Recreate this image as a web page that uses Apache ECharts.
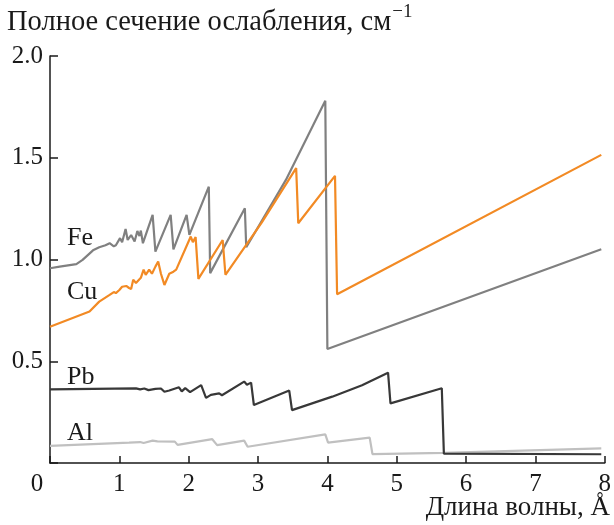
<!DOCTYPE html>
<html lang="ru">
<head>
    <meta charset="UTF-8">
    <title>Полное сечение ослабления</title>
    <style>
        html, body { margin: 0; padding: 0; background: #fff; }
        #chart { width: 614px; height: 525px; }
    </style>
</head>
<body>
    <div id="chart"></div>
    <script src="https://cdn.jsdelivr.net/npm/echarts@6/dist/echarts.min.js"></script>
    <script>
        // данные: [длина волны, Å; сечение, см^-1]
        const xTicks = [0, 1, 2, 3, 4, 5, 6, 7, 8];
        const yTicks = [0.5, 1.0, 1.5, 2.0];

        const fe = [[0, 0.957], [0.14, 0.965], [0.38, 0.977], [0.47, 0.998], [0.62, 1.045], [0.71, 1.06],
            [0.80, 1.07], [0.86, 1.08], [0.92, 1.065], [0.95, 1.07], [1.01, 1.105], [1.04, 1.085],
            [1.09, 1.15], [1.12, 1.096], [1.17, 1.12], [1.22, 1.088], [1.26, 1.14], [1.29, 1.115],
            [1.31, 1.142], [1.34, 1.08], [1.48, 1.219], [1.52, 1.039], [1.74, 1.219], [1.78, 1.05],
            [1.97, 1.219], [2.01, 1.121], [2.29, 1.358], [2.31, 0.933], [2.81, 1.252], [2.83, 1.06],
            [3.4, 1.39], [3.97, 1.78], [4.0, 0.56], [7.95, 1.05]];

        const cu = [[0, 0.67], [0.57, 0.744], [0.71, 0.793], [0.86, 0.826], [0.92, 0.84], [0.95, 0.835],
            [1.0, 0.85], [1.04, 0.866], [1.10, 0.87], [1.14, 0.86], [1.17, 0.855], [1.20, 0.90],
            [1.24, 0.885], [1.31, 0.91], [1.35, 0.95], [1.38, 0.925], [1.43, 0.95], [1.47, 0.93],
            [1.52, 0.965], [1.56, 0.99], [1.60, 0.93], [1.65, 0.875], [1.72, 0.93], [1.78, 0.94],
            [1.82, 0.95], [2.03, 1.113], [2.06, 1.085], [2.10, 1.11], [2.14, 0.905], [2.49, 1.096],
            [2.53, 0.925], [3.05, 1.18], [3.55, 1.449], [3.58, 1.178], [4.11, 1.411], [4.14, 0.829],
            [7.95, 1.514]];

        const pb = [[0, 0.362], [1.24, 0.367], [1.30, 0.362], [1.36, 0.366], [1.42, 0.358], [1.52, 0.364],
            [1.60, 0.366], [1.65, 0.35], [1.72, 0.356], [1.86, 0.372], [1.90, 0.352], [1.95, 0.368],
            [2.02, 0.348], [2.18, 0.383], [2.25, 0.32], [2.32, 0.335], [2.44, 0.342], [2.48, 0.333],
            [2.80, 0.40], [2.84, 0.385], [2.90, 0.395], [2.94, 0.285], [3.45, 0.356], [3.49, 0.26],
            [4.07, 0.326], [4.5, 0.382], [4.875, 0.444], [4.91, 0.293], [5.65, 0.367], [5.68, 0.046],
            [7.95, 0.043]];

        const al = [[0, 0.084], [1.14, 0.10], [1.3, 0.103], [1.35, 0.098], [1.48, 0.11], [1.55, 0.106],
            [1.8, 0.105], [1.84, 0.089], [2.34, 0.117], [2.41, 0.088], [2.80, 0.11], [2.85, 0.08],
            [3.97, 0.141], [4.01, 0.10], [4.61, 0.125], [4.65, 0.044], [5.68, 0.05], [7.95, 0.072]];

        const names = ['Fe', 'Cu', 'Pb', 'Al'];
        const colors = ['#808080', '#f28a24', '#383838', '#c0c0c0'];

        const font = '"Liberation Serif", "DejaVu Serif", serif';
        const fsz = 25;
        const ink = '#1a1a1a';
        const title = 'Полное сечение ослабления, см';
        const titleSize = 28.5;

        // ширина заголовка, чтобы поставить степень сразу за "см"
        const ctx = document.createElement('canvas').getContext('2d');
        ctx.font = titleSize + 'px ' + font;
        const titleW = ctx.measureText(title).width;

        function line(name, data, color) {
            return {
                name: name,
                type: 'line',
                data: data,
                symbol: 'none',
                silent: true,
                lineStyle: { color: color, width: 2.2 }
            };
        }

        function txt(text, x, y, align, size) {
            return {
                type: 'text',
                x: x, y: y,
                style: {
                    text: text,
                    font: (size || fsz) + 'px ' + font,
                    fill: ink,
                    textAlign: align || 'left',
                    textVerticalAlign: 'middle'
                }
            };
        }

        const option = {
            animation: false,
            grid: { left: 50, right: 8, top: 56, bottom: 62, containLabel: false },
            xAxis: {
                type: 'value',
                min: 0, max: 8, interval: 1,
                axisLine: { lineStyle: { color: ink, width: 1.5 } },
                axisTick: { inside: true, length: 7, lineStyle: { color: ink, width: 1.5 } },
                axisLabel: {
                    margin: 9,
                    fontFamily: font, fontSize: fsz, color: ink,
                    formatter: v => (v === 0 ? '' : String(v))
                },
                splitLine: { show: false }
            },
            yAxis: {
                type: 'value',
                min: 0, max: 2, interval: 0.5,
                axisLine: { show: true, lineStyle: { color: ink, width: 1.5 } },
                axisTick: { show: true, inside: true, length: 8, lineStyle: { color: ink, width: 1.5 } },
                axisLabel: {
                    margin: 7,
                    fontFamily: font, fontSize: fsz, color: ink,
                    formatter: v => (v === 0 ? '' : v.toFixed(1))
                },
                splitLine: { show: false }
            },
            series: [
                line(names[3], al, colors[3]),
                line(names[2], pb, colors[2]),
                line(names[0], fe, colors[0]),
                line(names[1], cu, colors[1])
            ],
            graphic: [
                txt(title, 7, 23, 'left', titleSize),
                txt('−1', 7 + titleW + 1, 12, 'left', 19),
                txt('Длина волны, Å', 610, 508, 'right', 27),
                txt('0', 37, 484, 'center'),
                txt(names[0], 67, 238, 'left', 26),
                txt(names[1], 67, 292, 'left', 26),
                txt(names[2], 67, 377, 'left', 26),
                txt(names[3], 67, 433, 'left', 26)
            ]
        };

        const chart = echarts.init(document.getElementById('chart'));
        chart.setOption(option);
    </script>
</body>
</html>
